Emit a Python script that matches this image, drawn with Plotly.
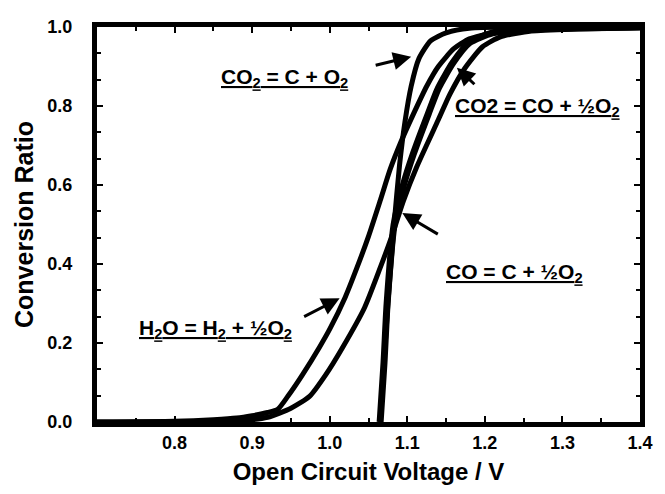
import plotly.graph_objects as go

# ---------------- data ----------------
h2o_x = [0.70, 0.80, 0.85, 0.88, 0.90, 0.92, 0.933, 0.946, 0.965, 0.987, 1.000, 1.020, 1.035, 1.050,
         1.065, 1.078, 1.092, 1.108, 1.125, 1.140, 1.160, 1.180, 1.210, 1.260, 1.400]
h2o_y = [0.0, 0.002, 0.006, 0.010, 0.016, 0.024, 0.032, 0.065, 0.12, 0.19, 0.235, 0.316, 0.39, 0.47,
         0.56, 0.64, 0.71, 0.78, 0.85, 0.90, 0.945, 0.97, 0.985, 0.993, 1.0]

co2_c_x = [1.065, 1.070, 1.075, 1.083, 1.090, 1.097, 1.105, 1.115, 1.130, 1.150, 1.180, 1.400]
co2_c_y = [0.0, 0.15, 0.30, 0.50, 0.65, 0.76, 0.85, 0.92, 0.965, 0.985, 0.997, 1.0]

co_c_x = [1.065, 1.070, 1.074, 1.083, 1.095, 1.108, 1.127, 1.140, 1.159, 1.180, 1.210, 1.260, 1.400]
co_c_y = [0.0, 0.15, 0.30, 0.50, 0.60, 0.68, 0.78, 0.845, 0.91, 0.96, 0.985, 0.995, 1.0]

co2_co_x = [0.70, 0.88, 0.92, 0.95, 0.974, 0.995, 1.017, 1.045, 1.065, 1.080, 1.095, 1.112, 1.140,
            1.155, 1.174, 1.197, 1.220, 1.260, 1.320, 1.400]
co2_co_y = [0.0, 0.003, 0.012, 0.035, 0.065, 0.12, 0.19, 0.29, 0.39, 0.47, 0.56, 0.645, 0.765,
            0.83, 0.895, 0.95, 0.975, 0.99, 0.995, 0.998]

x_tick_vals = [0.8, 0.9, 1.0, 1.1, 1.2, 1.3, 1.4]
x_tick_text = ["0.8", "0.9", "1.0", "1.1", "1.2", "1.3", "1.4"]
y_tick_vals = [0.0, 0.2, 0.4, 0.6, 0.8, 1.0]
y_tick_text = ["0.0", "0.2", "0.4", "0.6", "0.8", "1.0"]

labels = [
    "<u>CO<sub>2</sub> = C + O<sub>2</sub></u>",
    "<u>CO2 = CO + ½O<sub>2</sub></u>",
    "<u>CO = C + ½O<sub>2</sub></u>",
    "<u>H<sub>2</sub>O = H<sub>2</sub> + ½O<sub>2</sub></u>",
]
# label centres (data units) and arrow tips (data units) + tail offsets (px)
label_pos = [(0.942, 0.872), (1.268, 0.797), (1.238, 0.378), (0.853, 0.236)]
arrow_tip = [(1.105, 0.925), (1.164, 0.897), (1.0936, 0.529), (1.0128, 0.313)]
arrow_tail = [(-37, 9), (19, 18), (37, 22), (-37, 19)]

# ---------------- figure ----------------
fig = go.Figure()
line_style = dict(color="black", width=5, shape="spline", smoothing=0.6)
fig.add_trace(go.Scatter(x=h2o_x, y=h2o_y, mode="lines", line=line_style, name="H2O"))
fig.add_trace(go.Scatter(x=co2_co_x, y=co2_co_y, mode="lines", line=line_style, name="CO2=CO"))
fig.add_trace(go.Scatter(x=co2_c_x, y=co2_c_y, mode="lines", line=line_style, name="CO2=C"))
fig.add_trace(go.Scatter(x=co_c_x, y=co_c_y, mode="lines",
                         line=dict(color="black", width=7, shape="spline", smoothing=0.6), name="CO=C"))

tick_font = dict(family="Liberation Sans, Arial", size=18, color="black", weight="bold")

fig.update_xaxes(
    range=[0.7, 1.4], showgrid=False, zeroline=False,
    showline=True, linewidth=5, linecolor="black", mirror="allticks",
    tickmode="array", tickvals=x_tick_vals, ticktext=x_tick_text,
    ticks="inside", ticklen=6, tickwidth=2, tickcolor="black",
    minor=dict(dtick=0.05, tick0=0.7, ticks="inside", ticklen=4, tickwidth=2, tickcolor="black"),
    tickfont=tick_font,
    title=dict(text="<b>Open Circuit Voltage / V</b>", standoff=13,
               font=dict(family="Liberation Sans, Arial", size=24, color="black")),
)
fig.update_yaxes(
    range=[0, 1.0], showgrid=False, zeroline=False,
    showline=True, linewidth=5, linecolor="black", mirror="allticks",
    tickmode="array", tickvals=y_tick_vals, ticktext=y_tick_text,
    ticks="inside", ticklen=6, tickwidth=2, tickcolor="black",
    minor=dict(dtick=0.2 / 3, tick0=0, ticks="inside", ticklen=4, tickwidth=2, tickcolor="black"),
    tickfont=tick_font, ticklabelstandoff=16,
    title=dict(text="<b>Conversion Ratio</b>", standoff=8,
               font=dict(family="Liberation Sans, Arial", size=25, color="black")),
)

for txt, (lx, ly) in zip(labels, label_pos):
    fig.add_annotation(x=lx, y=ly, xref="x", yref="y", text="<b>" + txt + "</b>", showarrow=False,
                       font=dict(family="Liberation Sans, Arial", size=21, color="black"))

for (tx, ty), (ax, ay) in zip(arrow_tip, arrow_tail):
    fig.add_annotation(x=tx, y=ty, xref="x", yref="y", text="", showarrow=True,
                       ax=ax, ay=ay, arrowhead=2, arrowsize=1.2, arrowwidth=3, arrowcolor="black",
                       standoff=0)

fig.update_layout(
    width=665, height=494,
    margin=dict(l=97, r=22, t=27, b=68),
    paper_bgcolor="white", plot_bgcolor="white",
    showlegend=False,
    font=dict(family="Liberation Sans, Arial", color="black"),
)

fig.write_html("out.html", config={"displayModeBar": False},
               post_script="document.body.style.margin='0';document.body.style.overflow='hidden';")
